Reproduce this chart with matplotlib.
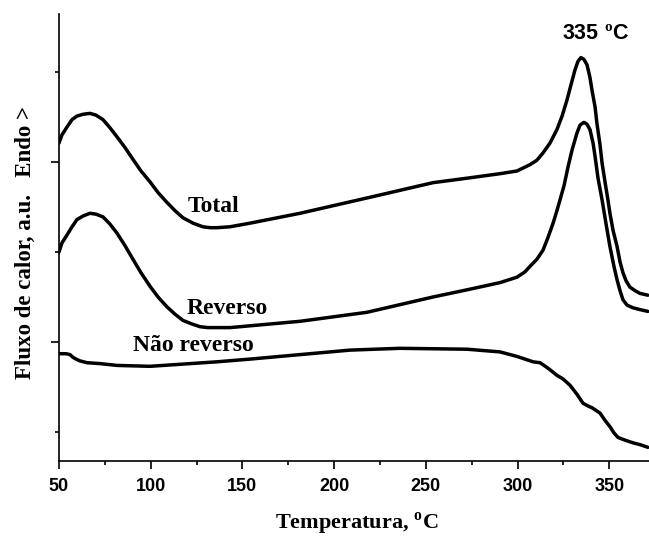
import numpy as np
import matplotlib
matplotlib.use('Agg')
from matplotlib import pyplot as plt
from matplotlib.ticker import MultipleLocator, FixedLocator

plt.rcParams['mathtext.fontset'] = 'custom'
plt.rcParams['mathtext.bf'] = 'Liberation Serif:bold'
plt.rcParams['mathtext.rm'] = 'Liberation Serif:bold'

# curvas (temperatura em °C, fluxo em unidades arbitrarias)
t_total = [50.0, 51.6, 54.4, 57.1, 59.8, 63.1, 66.9, 70.2, 74.0, 77.8, 81.6, 86.0,
           90.3, 94.7, 99.6, 104.0, 108.9, 113.2, 117.6, 123.1, 128.5, 132.3, 136.1,
           143.2, 154.1, 181.4, 217.9, 253.9, 272.5, 290.5, 299.7, 306.8, 310.6,
           313.9, 317.7, 321.5, 324.3, 327.0, 329.2, 331.3, 333.0, 334.6, 336.2,
           337.9, 339.5, 340.6, 342.3, 343.3, 345.0, 346.1, 347.7, 349.3, 350.4,
           352.1, 354.3, 355.9, 357.5, 359.2, 361.3, 364.1, 366.8, 371.1]
f_total = [3.21, 3.30, 3.39, 3.47, 3.51, 3.53, 3.54, 3.52, 3.47, 3.38, 3.28, 3.16,
           3.03, 2.90, 2.78, 2.66, 2.55, 2.46, 2.38, 2.32, 2.28, 2.27, 2.27,
           2.28, 2.32, 2.43, 2.60, 2.77, 2.82, 2.87, 2.90, 2.97, 3.02,
           3.10, 3.21, 3.36, 3.51, 3.69, 3.86, 4.02, 4.12, 4.16, 4.14,
           4.08, 3.94, 3.80, 3.61, 3.43, 3.19, 2.99, 2.78, 2.58, 2.43,
           2.24, 2.06, 1.89, 1.77, 1.68, 1.61, 1.57, 1.54, 1.52]

t_rev = [50.0, 51.6, 54.4, 57.1, 59.8, 63.1, 66.9, 70.2, 74.0, 77.8, 81.6, 86.0,
         90.3, 94.7, 99.6, 104.0, 108.9, 113.2, 117.6, 122.5, 126.9, 131.2, 136.1,
         143.2, 154.1, 181.4, 217.9, 253.9, 272.5, 290.5, 299.7, 304.1, 306.8,
         310.6, 313.9, 316.6, 319.4, 321.5, 323.2, 325.4, 327.5, 329.7, 332.4,
         334.1, 336.2, 337.9, 339.5, 341.2, 342.3, 343.9, 346.1, 348.3, 350.4,
         352.6, 354.3, 355.9, 357.5, 359.7, 363.0, 366.8, 371.1]
f_rev = [2.00, 2.10, 2.19, 2.28, 2.36, 2.40, 2.43, 2.42, 2.39, 2.31, 2.21, 2.07,
         1.92, 1.77, 1.62, 1.50, 1.39, 1.31, 1.24, 1.20, 1.17, 1.16, 1.16,
         1.16, 1.18, 1.23, 1.33, 1.50, 1.58, 1.66, 1.72, 1.78, 1.84,
         1.92, 2.02, 2.16, 2.32, 2.46, 2.58, 2.74, 2.94, 3.13, 3.32,
         3.41, 3.44, 3.42, 3.36, 3.21, 3.06, 2.82, 2.58, 2.31, 2.06,
         1.84, 1.69, 1.57, 1.47, 1.41, 1.38, 1.36, 1.34]

t_nrev = [50.0, 53.8, 56.0, 57.6, 59.3, 61.5, 65.3, 72.4, 81.6, 99.6, 136.1, 154.1,
          181.4, 208.7, 235.9, 272.5, 290.5, 299.7, 308.5, 312.3, 316.6, 321.5,
          324.8, 328.6, 332.4, 335.7, 338.4, 340.6, 342.8, 345.0, 347.7, 350.4,
          352.6, 354.8, 358.6, 363.0, 366.8, 371.1]
f_nrev = [0.87, 0.87, 0.86, 0.83, 0.81, 0.79, 0.77, 0.76, 0.74, 0.73, 0.78, 0.81,
          0.86, 0.91, 0.93, 0.92, 0.89, 0.84, 0.78, 0.77, 0.71, 0.63,
          0.59, 0.52, 0.42, 0.32, 0.29, 0.27, 0.24, 0.21, 0.13, 0.06,
          -0.01, -0.06, -0.09, -0.12, -0.14, -0.17]

fig = plt.figure(figsize=(6.49, 5.36), dpi=100)
ax = fig.add_axes([0.0909, 0.1399, 0.9091, 0.834])

for t, f in [(t_total, f_total), (t_rev, f_rev), (t_nrev, f_nrev)]:
    ax.plot(t, f, color='black', lw=2.5, solid_joinstyle='round', solid_capstyle='round')

ax.set_xlim(50, 371.7)
ax.set_ylim(-0.322, 4.644)

ax.spines['top'].set_visible(False)
ax.spines['right'].set_visible(False)
for s in ['left', 'bottom']:
    ax.spines[s].set_linewidth(1.2)

ax.xaxis.set_major_locator(MultipleLocator(50))
ax.xaxis.set_minor_locator(MultipleLocator(25))
ax.yaxis.set_major_locator(FixedLocator([1, 3]))
ax.yaxis.set_minor_locator(FixedLocator([0, 2, 4]))
ax.tick_params(which='major', direction='out', length=6, width=1.2)
ax.tick_params(which='minor', direction='out', length=3, width=1.2)
ax.tick_params(axis='y', labelleft=False)
for lab in ax.get_xticklabels():
    lab.set_fontfamily('Liberation Sans')
    lab.set_fontweight('bold')
    lab.set_fontsize(13)
ax.tick_params(axis='x', pad=6)

ax.text(134.5, 2.50, 'Total', family='Liberation Serif', weight='bold', fontsize=17,
        ha='center', va='center')
ax.text(141.6, 1.37, 'Reverso', family='Liberation Serif', weight='bold', fontsize=17,
        ha='center', va='center')
ax.text(123.1, 0.96, 'Não reverso', family='Liberation Serif', weight='bold', fontsize=17,
        ha='center', va='center')
ax.text(342.3, 4.42, r'335 $^{\mathbf{o}}$C', family='Liberation Sans', weight='bold',
        fontsize=15.5, ha='center', va='center')

fig.text(0.550, 0.013, r'Temperatura, $^{\mathbf{o}}$C', family='Liberation Serif',
         weight='bold', fontsize=16, ha='center', va='baseline')
fig.text(0.040, 0.547, 'Fluxo de calor, a.u.   Endo >', family='Liberation Serif',
         weight='bold', fontsize=16.5, ha='center', va='center', rotation=90)

fig.savefig('out.png', dpi=100)
